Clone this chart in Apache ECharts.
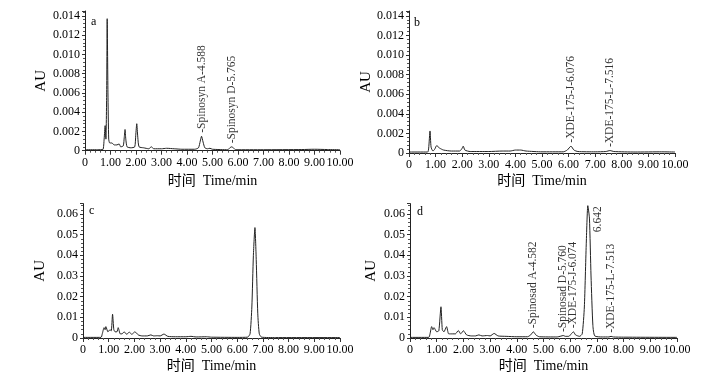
<!DOCTYPE html>
<html>
<head>
<meta charset="utf-8">
<script src="https://cdn.jsdelivr.net/npm/echarts@6/dist/echarts.min.js"></script>
<style>
  html, body { margin: 0; padding: 0; background: #fff; }
  #chart { width: 705px; height: 379px; }
</style>
</head>
<body>
<div id="chart"></div>
<script>
// chromatogram traces, [time (min), AU]
const traceA = [[0,0.0001],[0.5,0.0001],[0.7,0.00012],[0.75,0.0012],[0.79,0.0026],[0.82,0.0012],[0.85,0.006],[0.87,0.0137],[0.9,0.006],[0.93,0.0012],[0.97,0.0008],[1.05,0.0008],[1.15,0.0006],[1.25,0.0006],[1.34,0.0007],[1.4,0.0004],[1.5,0.0005],[1.54,0.0014],[1.57,0.0022],[1.6,0.0012],[1.65,0.0004],[1.8,0.0003],[1.95,0.0004],[1.99,0.0016],[2.03,0.0028],[2.07,0.0014],[2.12,0.0004],[2.3,0.0003],[2.5,0.0002],[2.6,0.0004],[2.7,0.0002],[3.0,0.0002],[3.2,0.00025],[3.5,0.0002],[3.8,0.00015],[4.3,0.00015],[4.45,0.0003],[4.52,0.001],[4.57,0.0015],[4.63,0.0009],[4.7,0.0003],[4.8,0.0002],[4.9,0.00025],[5.0,0.00015],[5.6,0.0001],[5.68,0.0003],[5.75,0.0004],[5.82,0.0003],[5.9,0.0001],[7,0.0001],[8.5,0.00012],[9,0.00015],[9.5,0.00012],[10,0.0001]];
const traceB = [[0,0.0001],[0.7,0.0001],[0.74,0.0005],[0.79,0.00225],[0.83,0.0006],[0.9,0.0002],[0.97,0.0004],[1.04,0.00075],[1.15,0.0005],[1.3,0.0003],[1.6,0.0002],[1.9,0.0002],[1.98,0.0004],[2.04,0.0007],[2.1,0.0003],[2.3,0.00015],[3,0.00015],[3.5,0.0002],[3.8,0.0002],[4.0,0.0003],[4.2,0.0003],[4.4,0.0002],[5.0,0.00012],[5.8,0.00012],[5.95,0.0003],[6.09,0.0007],[6.2,0.0003],[6.35,0.00015],[7,0.00012],[7.4,0.00015],[7.56,0.00025],[7.7,0.00015],[8.5,0.0001],[9.5,0.00012],[10,0.0001]];
const traceC = [[0,0.0003],[0.7,0.0003],[0.75,0.002],[0.82,0.005],[0.86,0.004],[0.89,0.0055],[0.97,0.003],[1.05,0.004],[1.1,0.0035],[1.15,0.0115],[1.2,0.004],[1.25,0.003],[1.32,0.003],[1.37,0.005],[1.45,0.002],[1.52,0.002],[1.6,0.003],[1.7,0.0018],[1.8,0.0028],[1.9,0.0018],[2.02,0.003],[2.15,0.0015],[2.3,0.001],[2.5,0.001],[2.64,0.0015],[2.75,0.001],[2.9,0.0011],[3.0,0.001],[3.15,0.0019],[3.3,0.0008],[3.6,0.0006],[4.0,0.0006],[4.2,0.0008],[4.4,0.0005],[4.8,0.0006],[5.0,0.0004],[6.0,0.0003],[6.4,0.0004],[6.5,0.002],[6.57,0.015],[6.63,0.04],[6.69,0.0534],[6.74,0.038],[6.8,0.012],[6.86,0.002],[6.95,0.0004],[7.5,0.0002],[10,0.0002]];
const traceD = [[0,0.0003],[0.7,0.0003],[0.75,0.002],[0.81,0.0055],[0.86,0.004],[0.9,0.005],[1.0,0.003],[1.08,0.0035],[1.16,0.0151],[1.21,0.004],[1.27,0.003],[1.37,0.0055],[1.45,0.002],[1.6,0.002],[1.7,0.002],[1.81,0.0036],[1.9,0.002],[2.0,0.0035],[2.12,0.0015],[2.3,0.001],[2.45,0.001],[2.58,0.0015],[2.7,0.001],[2.9,0.0012],[3.0,0.001],[3.15,0.0022],[3.3,0.001],[3.6,0.0008],[4.0,0.0006],[4.4,0.0006],[4.52,0.0015],[4.62,0.003],[4.72,0.0014],[4.85,0.0006],[5.5,0.0005],[5.65,0.0009],[5.74,0.0012],[5.82,0.0008],[5.95,0.0008],[6.04,0.002],[6.12,0.003],[6.2,0.0015],[6.35,0.0008],[6.45,0.002],[6.53,0.015],[6.6,0.045],[6.66,0.064],[6.72,0.058],[6.78,0.03],[6.85,0.006],[6.92,0.001],[7.2,0.0005],[7.45,0.0005],[7.53,0.0008],[7.62,0.0005],[8,0.0004],[10,0.0003]];

// peak annotations [time, AU, text]
const peaksA = [[4.57,0.0015,'Spinosyn A-4.588'],[5.75,0.0004,'Spinosyn D-5.765']];
const peaksB = [[6.09,0.0007,'XDE-175-J-6.076'],[7.56,0.00025,'XDE-175-L-7.516']];
const peaksC = [];
const peaksD = [[4.62,0.003,'Spinosad A-4.582'],[5.74,0.0012,'Spinosad D-5.760'],[6.12,0.003,'XDE-175-J-6.074'],[7.53,0.0008,'XDE-175-L-7.513'],[7.04,0.0495,'6.642']];

const panelLetters = ['a','b','c','d'];
const yMax = [0.0145, 0.0145, 0.065, 0.065];
const yStep = [0.002, 0.002, 0.01, 0.01];

const serif = '"Liberation Serif", "Times New Roman", serif';
const mixed = '"Liberation Serif", "Noto Sans CJK SC", serif';

const grids = [
  { left: 85, top: 11, width: 255, height: 139.7 },
  { left: 409, top: 11, width: 266, height: 142 },
  { left: 83, top: 203.6, width: 257, height: 134.4 },
  { left: 410, top: 203.6, width: 267, height: 134.4 }
];
const xNameGap = [24, 21, 21, 21];
const yNameGap = [36, 32, 35, 31];

const chart = echarts.init(document.getElementById('chart'));

const axisLine = { show: true, onZero: false, lineStyle: { color: '#222', width: 1 } };

const xAxis = grids.map((g, i) => ({
  type: 'value', gridIndex: i, min: 0, max: 10, interval: 1,
  name: '时间  Time/min', nameLocation: 'middle', nameGap: xNameGap[i],
  nameTextStyle: { fontFamily: mixed, fontSize: 14, color: '#000' },
  axisLine: axisLine,
  axisTick: { show: true, length: 4, lineStyle: { color: '#333' } },
  minorTick: { show: true, splitNumber: 5, length: 2, lineStyle: { color: '#555' } },
  splitLine: { show: false },
  axisLabel: {
    fontFamily: serif, fontSize: 12, color: '#000', margin: 6,
    formatter: v => v === 0 ? '0' : v.toFixed(2)
  }
}));

const yAxis = grids.map((g, i) => ({
  type: 'value', gridIndex: i, min: 0, max: yMax[i], interval: yStep[i],
  name: 'AU', nameLocation: 'middle', nameGap: yNameGap[i],
  nameTextStyle: { fontFamily: serif, fontSize: 15, color: '#000' },
  axisLine: axisLine,
  axisTick: { show: true, length: 3, lineStyle: { color: '#333' } },
  minorTick: { show: true, splitNumber: 5, length: 2, lineStyle: { color: '#555' } },
  splitLine: { show: false },
  axisLabel: {
    fontFamily: serif, fontSize: 12, color: '#000', margin: 5, showMaxLabel: false,
    formatter: v => v === 0 ? '0' : (i < 2 ? v.toFixed(3) : v.toFixed(2))
  }
}));

const traces = [traceA, traceB, traceC, traceD];
const peaks = [peaksA, peaksB, peaksC, peaksD];

const series = [];
traces.forEach((tr, i) => {
  series.push({
    type: 'line', xAxisIndex: i, yAxisIndex: i, data: tr,
    symbol: 'none', smooth: 0.2, animation: false,
    lineStyle: { color: '#222', width: 1 }
  });
  series.push({
    type: 'scatter', xAxisIndex: i, yAxisIndex: i,
    data: peaks[i].map(p => ({ value: [p[0], p[1]], name: p[2] })),
    symbolSize: 1, itemStyle: { color: 'transparent' }, animation: false,
    label: {
      show: true, position: 'top', distance: 3, rotate: 90,
      align: 'left', verticalAlign: 'middle',
      formatter: p => (p.name === '6.642' ? '' : '-') + p.name,
      fontFamily: serif, fontSize: 11.5, color: '#000'
    }
  });
});

const letterPos = [[94, 23], [417, 24], [92, 212], [420, 213]];

chart.setOption({
  backgroundColor: '#fff',
  animation: false,
  grid: grids,
  xAxis: xAxis,
  yAxis: yAxis,
  series: series,
  graphic: panelLetters.map((l, i) => ({
    type: 'text', left: letterPos[i][0] - 3, top: letterPos[i][1] - 7,
    style: { text: l, font: '12px ' + serif, fill: '#000' }
  }))
});
</script>
</body>
</html>
